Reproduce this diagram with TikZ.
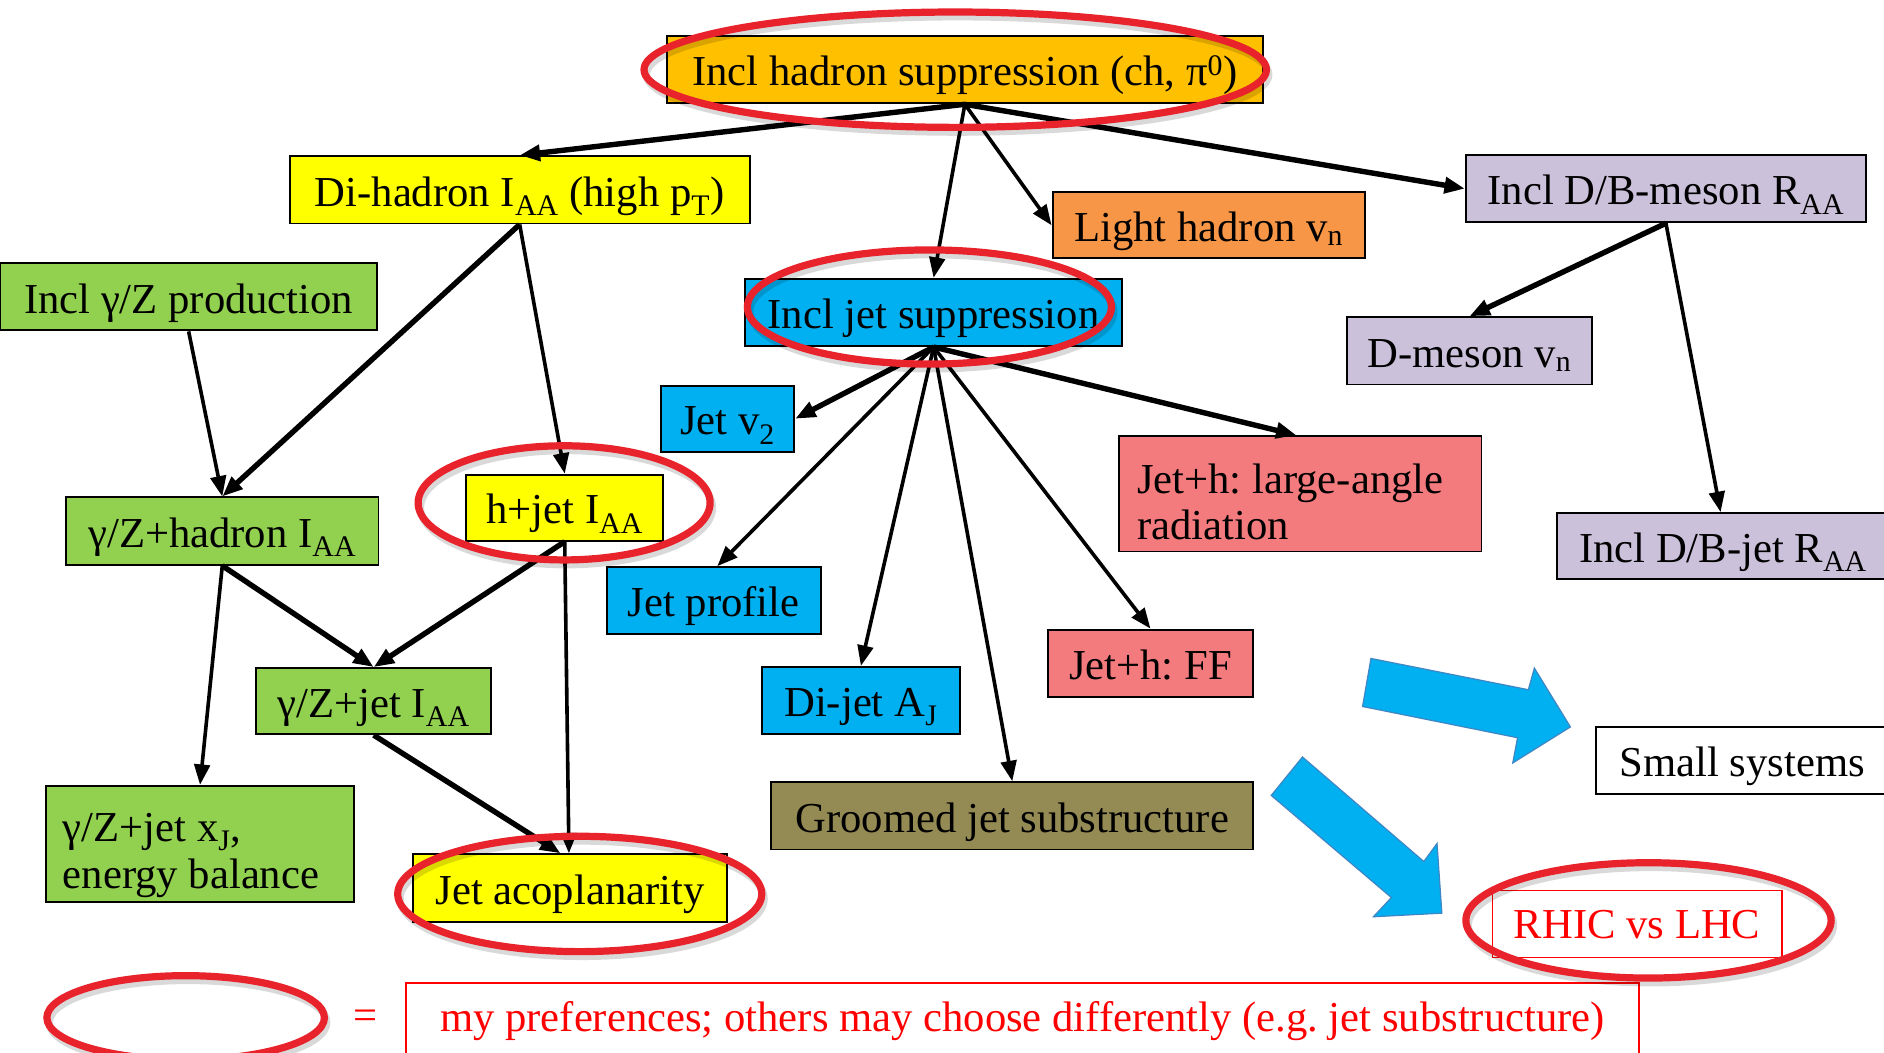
\documentclass[tikz,border=0pt]{standalone}
\usepackage{fontspec}
\setmainfont{Liberation Serif}
\usetikzlibrary{arrows.meta}
\definecolor{cTop}{HTML}{FFC000}
\definecolor{cYellow}{HTML}{FFFF00}
\definecolor{cOrange}{HTML}{F79646}
\definecolor{cLav}{HTML}{CCC1DA}
\definecolor{cGreen}{HTML}{92D050}
\definecolor{cBlue}{HTML}{00B0F0}
\definecolor{cBlueEdge}{HTML}{3F86C4}
\definecolor{cPink}{HTML}{F37B7D}
\definecolor{cOlive}{HTML}{948A54}
\definecolor{cRing}{HTML}{E8232B}
\definecolor{cRed}{HTML}{FF0000}
\begin{document}
\frenchspacing
\begin{tikzpicture}[x=1pt,y=-1pt,
  txt/.style={inner sep=0pt, text=black, font=\fontsize{35.5pt}{37.6pt}\selectfont},
  firstline/.style={txt, anchor=base west, text depth=0pt},
  secondline/.style={txt, anchor=base west, text height=20pt},
  box/.style={txt, draw=black, line width=1.6pt, text height=27pt, text depth=0pt},
  conn/.style={line width=3pt, -{Triangle[length=17pt,width=13pt]}},
  thk/.style={line width=4.5pt},
  ring/.style={draw=cRing, line width=6pt},
  ringsh/.style={draw=black, opacity=0.15, line width=6pt},
  blockarrow/.style={fill=cBlue, draw=cBlueEdge, line width=1pt, line join=miter}]
\useasboundingbox (0,0) rectangle (1568,876);
\clip (0,0) rectangle (1568,876);
\fill[white] (0,0) rectangle (1568,876);

% boxes
\node[box, fill=cTop, minimum width=496pt, minimum height=56pt] (top) at (803,58) {Incl hadron suppression (ch, π\textsuperscript{0})};
\node[box, fill=cYellow, minimum width=383pt, minimum height=56pt] (dihad) at (432.5,158) {Di-hadron I\textsubscript{AA} (high p\textsubscript{T})};
\node[box, fill=cOrange, minimum width=260pt, minimum height=55pt] (light) at (1006,187.5) {Light hadron v\textsubscript{n}};
\node[box, fill=cLav, minimum width=333pt, minimum height=56pt] (dbmeson) at (1386.5,157) {Incl D/B-meson R\textsubscript{AA}};
\node[box, fill=cGreen, minimum width=314pt, minimum height=56pt] (inclgz) at (157,247) {Incl γ/Z production};
\node[box, fill=cBlue, minimum width=314pt, minimum height=56pt] (incljet) at (777,260) {Incl jet suppression};
\node[box, fill=cLav, minimum width=204pt, minimum height=56pt] (dmeson) at (1223,292) {D-meson v\textsubscript{n}};
\node[box, fill=cBlue, minimum width=111pt, minimum height=55pt] (jetv2) at (605.5,348.5) {Jet v\textsubscript{2}};
\node[box, fill=cPink, minimum width=302pt, minimum height=96pt] (large) at (1082,411) {};
\node[firstline] (large1) at ([xshift=16pt]large.west) {Jet+h: large-angle};
\node[secondline] (large2) at ([xshift=16pt,yshift=-37.6pt]large.west) {radiation};
\node[box, fill=cLav, minimum width=276pt, minimum height=55pt] (dbjet) at (1434,454.5) {Incl D/B-jet R\textsubscript{AA}};
\node[box, fill=cGreen, minimum width=260pt, minimum height=56pt] (gzhad) at (185,442) {γ/Z+hadron I\textsubscript{AA}};
\node[box, fill=cYellow, minimum width=164pt, minimum height=55pt] (hjet) at (470,422.5) {h+jet I\textsubscript{AA}};
\node[box, fill=cBlue, minimum width=178pt, minimum height=56pt] (profile) at (594,500) {Jet profile};
\node[box, fill=cBlue, minimum width=165pt, minimum height=56pt] (dijet) at (716.5,583) {Di-jet A\textsubscript{J}};
\node[box, fill=cPink, minimum width=171pt, minimum height=56pt] (ff) at (957.5,552) {Jet+h: FF};
\node[box, fill=cGreen, minimum width=196pt, minimum height=55pt] (gzjet) at (311,583.5) {γ/Z+jet I\textsubscript{AA}};
\node[box, fill=cGreen, minimum width=257pt, minimum height=97pt] (xj) at (166.5,702.5) {};
\node[firstline] (xj1) at ([xshift=15pt,yshift=2pt]xj.west) {γ/Z+jet x\textsubscript{J},};
\node[secondline] (xj2) at ([xshift=15pt,yshift=-37pt]xj.west) {energy balance};
\node[box, fill=cOlive, minimum width=401pt, minimum height=56pt] (groomed) at (842.5,679) {Groomed jet substructure};
\node[box, fill=cYellow, minimum width=261pt, minimum height=56pt] (acop) at (474.5,739) {Jet acoplanarity};
\node[box, fill=white, minimum width=244pt, minimum height=56pt] (small) at (1450,633) {Small systems};
\node[box, draw=cRed, line width=1.2pt, text=cRed, fill=white, minimum width=241pt, minimum height=56pt, text height=24pt] (rhic) at (1362.5,769) {RHIC vs LHC};
\node[box, draw=cRed, line width=1.2pt, text=cRed, fill=white, minimum width=1026pt, minimum height=62pt, text height=19pt] (legend) at (851,849) {my preferences; others may choose differently (e.g. jet substructure)};
\node[txt, text=cRed] (eq) at (304,849) {=};

% connectors
\draw[conn, thk] (top.south) -- (dihad.north);
\draw[conn] (top.south) -- (incljet.north);
\draw[conn] (top.south) -- (light.west);
\draw[conn, thk] (top.south) -- (dbmeson.west);
\draw[conn, thk] (dihad.south) -- (gzhad.north);
\draw[conn] (dihad.south) -- (hjet.north);
\draw[conn] (inclgz.south) -- (gzhad.north);
\draw[conn, thk] (dbmeson.south) -- (dmeson.north);
\draw[conn] (dbmeson.south) -- ([xshift=-2pt]dbjet.north);
\draw[conn, thk] (incljet.south) -- (jetv2.east);
\draw[conn] (incljet.south) -- ([xshift=3pt]profile.north);
\draw[conn] (incljet.south) -- (dijet.north);
\draw[conn] (incljet.south) -- (groomed.north);
\draw[conn] (incljet.south) -- (ff.north);
\draw[conn, thk] (incljet.south) -- ([xshift=-3pt]large.north);
\draw[conn] (gzhad.south) -- (xj.north);
\draw[conn, thk] (gzhad.south) -- (gzjet.north);
\draw[conn, thk] (hjet.south) -- (gzjet.north);
\draw[conn] (hjet.south) -- ([xshift=-1pt]acop.north);
\draw[conn, thk] (gzjet.south) -- ([xshift=-8pt]acop.north);

% block arrows
\draw[blockarrow] (1141,548) -- (1272,574) -- (1277,556) -- (1307,605) -- (1259,635) -- (1263,614) -- (1134,588) -- cycle;
\draw[blockarrow] (1084,630) -- (1185,717) -- (1196,702) -- (1200,760) -- (1143,763) -- (1158,747) -- (1058,662) -- cycle;

% preference rings
\draw[ringsh] (797,62) ellipse [x radius=259, y radius=48];
\draw[ring] (795,58) ellipse [x radius=259, y radius=48];
\draw[ringsh] (775.5,259.5) ellipse [x radius=151.5, y radius=47.5];
\draw[ring] (773.5,255.5) ellipse [x radius=151.5, y radius=47.5];
\draw[ringsh] (471.5,422.5) ellipse [x radius=121.5, y radius=47.5];
\draw[ring] (469.5,418.5) ellipse [x radius=121.5, y radius=47.5];
\draw[ringsh] (484.5,748) ellipse [x radius=151.5, y radius=48];
\draw[ring] (482.5,744) ellipse [x radius=151.5, y radius=48];
\draw[ringsh] (1374,770) ellipse [x radius=152, y radius=48];
\draw[ring] (1372,766) ellipse [x radius=152, y radius=48];
\draw[ringsh] (156.5,851) ellipse [x radius=115.5, y radius=35];
\draw[ring] (154.5,847) ellipse [x radius=115.5, y radius=35];
\end{tikzpicture}
\end{document}
